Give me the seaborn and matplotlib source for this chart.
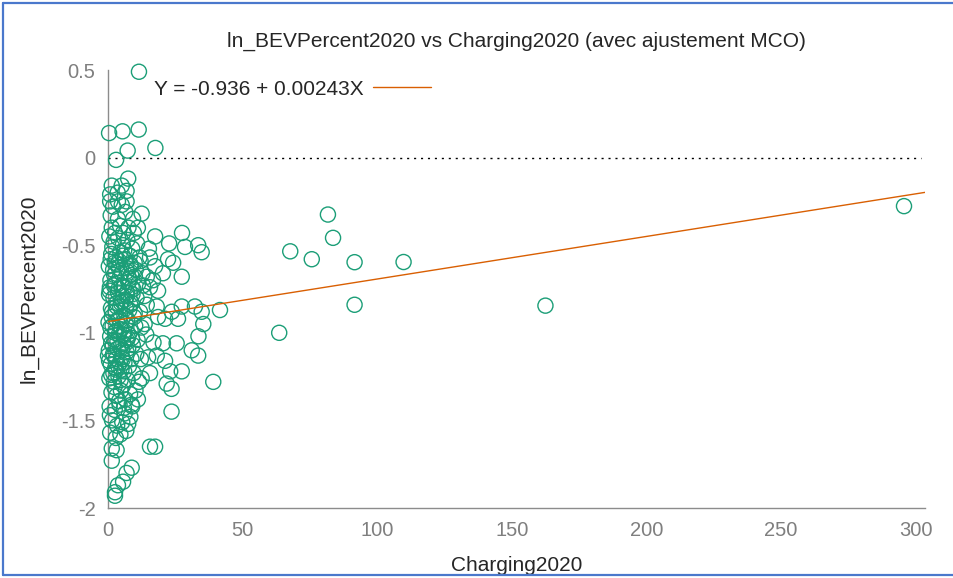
import matplotlib
matplotlib.use("Agg")
import matplotlib.pyplot as plt
import seaborn as sns
import pandas as pd
import numpy as np
from matplotlib.lines import Line2D
from matplotlib.ticker import FuncFormatter

# Charging2020 / ln_BEVPercent2020
charging2020 = [
    11.5, 0.4, 5.4, 11.4, 7.3, 17.6, 3.0, 7.5,
    1.4, 5.1, 0.8, 3.6, 6.9, 0.8, 3.7, 6.9, 1.9, 5.1, 12.5, 9.3,
    1.4, 4.5, 7.6, 5.6, 2.6, 11.1, 17.5, 27.5,
    15.2, 22.7, 28.6, 33.5, 34.8, 15.6, 22.3, 24.2, 17.5, 20.4, 27.4, 14.4,
    16.7, 15.6, 18.6, 14.4, 18.1, 23.7, 27.4, 32.3, 34.8, 41.6,
    18.6, 21.2, 26.0, 35.4, 33.6, 16.9, 20.4, 25.5, 31.1, 33.5,
    14.9, 18.1, 21.2, 15.6, 12.5, 23.1, 27.4, 21.8, 23.6, 39.1,
    11.1, 8.8, 23.6, 15.6, 17.5, 1.4, 3.2, 1.4, 8.8, 6.9,
    5.6, 3.7, 2.6, 2.6, 0.0,
    81.7, 83.6, 67.7, 75.7, 91.6, 109.8, 91.6, 63.6, 162.5, 295.7,
    # dense cluster near the origin
    0.5, 2.1, 3.8, 5.5, 7.2, 9.0, 10.8, 1.2, 3.0, 4.6, 6.3, 8.1, 9.9, 11.7,
    0.3, 1.9, 3.5, 5.0, 6.8, 8.6, 10.3, 12.8,
    0.9, 2.6, 4.2, 5.9, 7.6, 9.4, 11.2,
    0.4, 2.0, 3.7, 5.3, 7.0, 8.8, 10.6, 13.5,
    1.1, 2.8, 4.5, 6.1, 7.9, 9.7, 11.9,
    0.2, 1.7, 3.3, 4.9, 6.6, 8.4, 10.1, 12.4,
    0.8, 2.4, 4.0, 5.7, 7.4, 9.2, 11.0,
    0.3, 1.9, 3.6, 5.2, 6.9, 8.7, 10.5,
    1.0, 2.7, 4.4, 6.0, 7.8, 9.5,
    0.5, 2.2, 3.9, 5.6, 7.3,
    1.3, 3.1, 4.8, 6.5, 8.2,
    0.6, 2.5, 4.3, 6.2,
    1.5, 3.4, 5.3,
    0.8, 2.9, 4.6, 6.8,
    1.6, 4.1, 6.0, 8.4, 2.3, 5.1, 7.9, 0.7, 3.2, 6.4, 9.1, 1.4, 4.1, 7.1,
    2.9, 5.8, 8.9, 1.2, 4.6, 7.5, 3.0, 6.1, 2.0, 5.0, 3.7, 1.0, 6.4, 9.6,
    12.1, 13.0, 12.2, 11.5, 10.2, 9.0, 8.3, 13.6, 14.2,
    1.0, 2.5, 4.0, 5.5, 7.0, 8.5, 10.0,
    0.6, 2.2, 3.9, 5.4, 7.1, 8.8,
    1.5, 3.2, 4.8, 6.6, 8.3, 9.9,
    0.9, 2.6, 4.3, 6.0, 7.7,
    1.8, 3.5, 5.2, 6.9,
    0.4, 2.1, 3.8, 5.5,
    1.2, 3.0, 4.7,
    2.4, 4.1, 0.7, 5.9, 7.5,
]
ln_bev_percent2020 = [
    0.49, 0.14, 0.15, 0.16, 0.04, 0.055, -0.013, -0.12,
    -0.16, -0.16, -0.21, -0.20, -0.19, -0.25, -0.25, -0.25, -0.28, -0.27, -0.32, -0.35,
    -0.40, -0.39, -0.40, -0.43, -0.43, -0.40, -0.45, -0.43,
    -0.52, -0.49, -0.51, -0.50, -0.54, -0.57, -0.58, -0.60, -0.62, -0.66, -0.68, -0.68,
    -0.70, -0.74, -0.76, -0.84, -0.85, -0.88, -0.85, -0.85, -0.88, -0.87,
    -0.91, -0.92, -0.92, -0.95, -1.02, -1.055, -1.06, -1.06, -1.10, -1.13,
    -1.14, -1.13, -1.16, -1.23, -1.26, -1.22, -1.22, -1.29, -1.32, -1.28,
    -1.38, -1.41, -1.45, -1.65, -1.65, -1.66, -1.67, -1.73, -1.77, -1.80,
    -1.85, -1.87, -1.91, -1.93, -1.13,
    -0.325, -0.458, -0.535, -0.58, -0.597, -0.596, -0.84, -1.0, -0.845, -0.277,
    -0.45, -0.48, -0.46, -0.50, -0.47, -0.52, -0.49, -0.55, -0.57, -0.54, -0.58, -0.56, -0.60, -0.57,
    -0.62, -0.64, -0.61, -0.66, -0.63, -0.67, -0.64, -0.66,
    -0.70, -0.72, -0.69, -0.74, -0.71, -0.75, -0.72,
    -0.78, -0.80, -0.77, -0.82, -0.79, -0.83, -0.80, -0.79,
    -0.86, -0.88, -0.85, -0.90, -0.87, -0.91, -0.88,
    -0.94, -0.96, -0.93, -0.98, -0.95, -0.99, -0.96, -0.97,
    -1.02, -1.04, -1.01, -1.06, -1.03, -1.07, -1.04,
    -1.10, -1.12, -1.09, -1.14, -1.11, -1.15, -1.12,
    -1.18, -1.20, -1.17, -1.22, -1.19, -1.23,
    -1.26, -1.28, -1.25, -1.30, -1.27,
    -1.34, -1.36, -1.33, -1.38, -1.35,
    -1.42, -1.44, -1.41, -1.46,
    -1.50, -1.53, -1.51,
    -1.57, -1.60, -1.58, -1.56,
    -0.51, -0.59, -0.53, -0.61, -0.67, -0.73, -0.69, -0.74, -0.83, -0.81, -0.78, -0.91, -0.92, -0.93,
    -0.99, -1.01, -1.03, -1.06, -1.08, -1.09, -1.15, -1.17, -1.23, -1.21, -0.35, -0.33, -0.31, -0.43,
    -0.59, -0.73, -1.15, -1.28, -1.33, -1.42, -1.48, -0.95, -1.01,
    -0.58, -0.60, -0.63, -0.56, -0.65, -0.62, -0.68,
    -0.76, -0.73, -0.75, -0.79, -0.77, -0.74,
    -0.88, -0.85, -0.83, -0.86, -0.84, -0.89,
    -0.97, -1.00, -0.96, -0.99, -1.01,
    -1.07, -1.05, -1.10, -1.04,
    -1.16, -1.13, -1.19, -1.15,
    -1.24, -1.21, -1.27,
    -1.31, -1.39, -1.47, -1.43, -1.52,
]

# OLS fit shown in the legend
intercept = -0.936
slope = 0.00243
fit_label = "Y = -0.936 + 0.00243X"

x_ticks = [0, 50, 100, 150, 200, 250, 300]
y_ticks = [0.5, 0, -0.5, -1, -1.5, -2]

df = pd.DataFrame({"Charging2020": charging2020, "ln_BEVPercent2020": ln_bev_percent2020})

sns.set_style("white")
plt.rcParams["font.family"] = ["Liberation Sans", "DejaVu Sans"]
plt.rcParams["axes.unicode_minus"] = False

green = "#1b9e77"
orange = "#d95f02"
grey = "#8c8c8c"

fig = plt.figure(figsize=(9.54, 5.78), dpi=100)
ax = fig.add_axes([108 / 954, 1 - 508 / 578, (925 - 108) / 954, (508 - 70) / 578])

sns.scatterplot(data=df, x="Charging2020", y="ln_BEVPercent2020", ax=ax,
                marker="o", s=118, color=green, facecolor="none",
                edgecolor=green, linewidth=1.0, zorder=3, clip_on=False)

xmax = 303.5
ax.set_xlim(0, xmax)
ax.set_ylim(-2, 0.5)

# zero line
ax.axhline(0, xmax=302 / xmax, color="black", linestyle=(0, (1.5, 3.5)), linewidth=1.0, zorder=1)

# fitted line
xs = np.array([0, xmax])
ax.plot(xs, intercept + slope * xs, color=orange, linewidth=1.0, label=fit_label, zorder=4)

ax.legend(loc="upper left", bbox_to_anchor=(0.056, 0.978), frameon=False,
          markerfirst=False, fontsize=15, handlelength=2.8, handletextpad=0.45,
          borderpad=0, borderaxespad=0)

for side in ["top", "right"]:
    ax.spines[side].set_visible(False)
for side in ["left", "bottom"]:
    ax.spines[side].set_color(grey)
    ax.spines[side].set_linewidth(1.0)

ax.set_xticks(x_ticks)
ax.set_yticks(y_ticks)
ax.yaxis.set_major_formatter(FuncFormatter(lambda v, p: f"{v:g}"))
ax.tick_params(axis="both", direction="in", length=6, width=1, color=grey,
               labelcolor="#7f7f7f", labelsize=14.5)
ax.tick_params(axis="x", pad=9)
ax.tick_params(axis="y", pad=9)

ax.set_xlabel("Charging2020", fontsize=15, labelpad=12)
ax.set_ylabel("ln_BEVPercent2020", fontsize=15, labelpad=16)
ax.set_title("ln_BEVPercent2020 vs Charging2020 (avec ajustement MCO)", fontsize=15, pad=17)

# blue frame around the picture (top, left, bottom)
frame_color = "#4a78cc"
fig.add_artist(Line2D([3 / 954, 1], [1 - 3 / 578, 1 - 3 / 578], color=frame_color, lw=1.6, transform=fig.transFigure))
fig.add_artist(Line2D([3 / 954, 3 / 954], [3 / 578, 1 - 3 / 578], color=frame_color, lw=1.6, transform=fig.transFigure))
fig.add_artist(Line2D([3 / 954, 1], [3 / 578, 3 / 578], color=frame_color, lw=1.6, transform=fig.transFigure))

fig.savefig("out.png", dpi=100)
plt.close(fig)
